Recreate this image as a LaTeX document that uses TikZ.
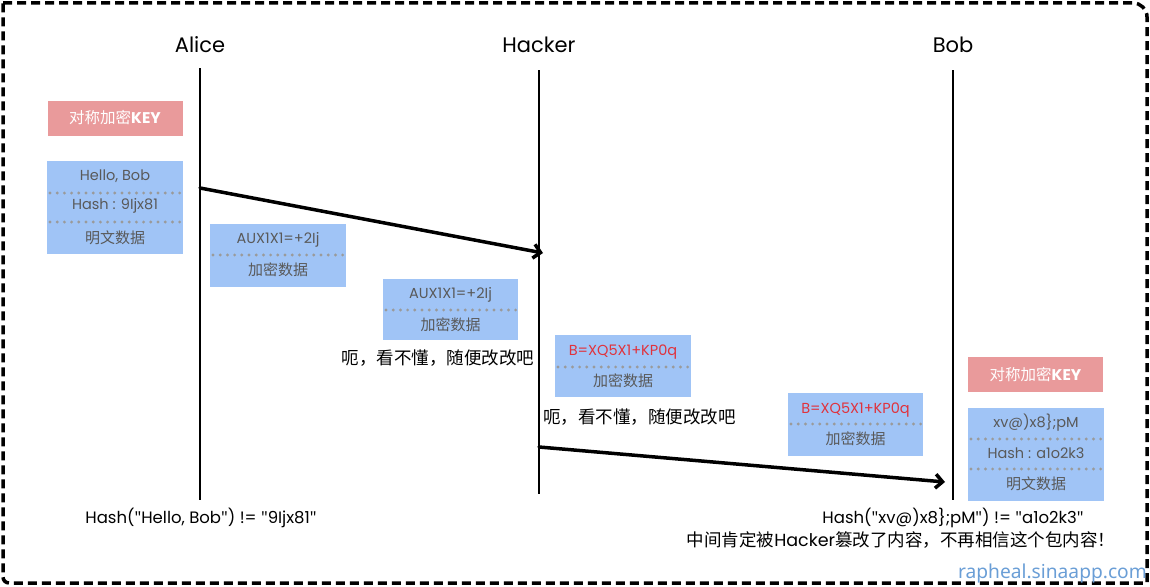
\documentclass[tikz,border=0pt]{standalone}
\usepackage{fontspec}
\setmainfont{Poppins}
\newfontfamily\cjk{Noto Sans CJK SC}
\newfontfamily\webfont{Noto Sans}
\usetikzlibrary{arrows.meta}

\definecolor{keyred}{HTML}{E99A9B}
\definecolor{datablue}{HTML}{A0C4F6}
\definecolor{datatext}{HTML}{595959}
\definecolor{fakered}{HTML}{E0323C}
\definecolor{sepgray}{HTML}{9A9A9A}
\definecolor{webblue}{HTML}{6A9ED6}

\tikzset{
	actorname/.style={font=\fontsize{21}{24}\selectfont, inner sep=0},
	lifeline/.style={line width=1.6pt},
	msgarrow/.style={line width=3.5pt, line cap=round,
		-{Straight Barb[length=7pt,width=14pt,line width=3.5pt]}},
	keybox/.style={fill=keyred, minimum width=135pt, minimum height=35pt, inner sep=0,
		text=white, font=\cjk\fontsize{15.5}{18}\selectfont},
	databox/.style={fill=datablue, minimum width=136pt, inner sep=0},
	boxline/.style={text=datatext, font=\fontsize{14.5}{16}\selectfont, inner sep=0},
	cjkline/.style={text=datatext, font=\cjk\fontsize{15}{17}\selectfont, inner sep=0},
	dotsep/.style={sepgray, line width=3.2pt, line cap=round, dash pattern=on 0pt off 7.2pt},
	hackernote/.style={font=\cjk\fontsize{17.5}{20}\selectfont, inner sep=0},
	hashnote/.style={font=\fontsize{16.5}{19}\selectfont, inner sep=0},
}

\begin{document}
\begin{tikzpicture}[x=1pt, y=-1pt]
	\useasboundingbox (0,0) rectangle (1150,586);

	%lifeline positions
	\def\aliceX{200}
	\def\hackerX{539}
	\def\bobX{953}
	%straight quote
	\def\qt{{\webfont"}}

	% outer frame
	\draw[line width=3.5pt, dash pattern=on 9pt off 5pt]
		(3,3) [rounded corners=14pt] -- (1147,3) [sharp corners] -- (1147,583)
		[rounded corners=6pt] -- (3,583) [sharp corners] -- cycle;

	% actors
	\node[actorname] (alice)  at (\aliceX,45)  {Alice};
	\node[actorname] (hacker) at (\hackerX,45) {Hacker};
	\node[actorname] (bob)    at (\bobX,45)    {Bob};

	\coordinate (aliceTop)  at (\aliceX,68);
	\coordinate (aliceBot)  at (\aliceX,500);
	\coordinate (hackerTop) at (\hackerX,70);
	\coordinate (hackerBot) at (\hackerX,494);
	\coordinate (bobTop)    at (\bobX,70);
	\coordinate (bobBot)    at (\bobX,500);

	\draw[lifeline] (aliceTop) -- (aliceBot);
	\draw[lifeline] (hackerTop) -- (hackerBot);
	\draw[lifeline] (bobTop) -- (bobBot);

	% alice side
	\node[keybox] (aliceKey) at (115,118) {对称加密{\rmfamily\bfseries KEY}};
	\node[databox, minimum height=93pt] (aliceData) at (115,207.5) {};
	\node[boxline] (aliceMsg)  at (115,176) {Hello, Bob};
	\node[boxline] (aliceHash) at (115,206) {Hash : 9Ijx81};
	\node[cjkline] (alicePlain) at (115,238) {明文数据};
	\draw[dotsep] (50,193) -- (181,193);
	\draw[dotsep] (50,222) -- (181,222);

	% first packet
	\node[databox, minimum height=63pt] (cipherA) at (278,255.5) {};
	\node[boxline] (cipherAText) at (278,240) {AUX1X1=+2Ij};
	\node[cjkline] (cipherALabel) at (278,270) {加密数据};
	\draw[dotsep] (213,255) -- (344,255);

	\coordinate (sendStart) at (\aliceX,188);
	\coordinate (sendEnd)   at (543,253);
	\draw[msgarrow] (sendStart) -- (sendEnd);

	% hacker receives
	\node[databox, minimum width=135pt, minimum height=61pt] (cipherB) at (450.5,309.5) {};
	\node[boxline] (cipherBText) at (450.5,295) {AUX1X1=+2Ij};
	\node[cjkline] (cipherBLabel) at (450.5,325) {加密数据};
	\draw[dotsep] (386,310) -- (516,310);
	\node[hackernote] (guessA) at (438,358) {呃，看不懂，随便改改吧};

	% hacker tampers
	\node[databox, minimum height=62pt] (fakeA) at (623,366) {};
	\node[boxline, text=fakered] (fakeAText) at (623,352) {B=XQ5X1+KP0q};
	\node[cjkline] (fakeALabel) at (623,381) {加密数据};
	\draw[dotsep] (558,367) -- (689,367);
	\node[hackernote, anchor=west] (guessB) at (543,417) {呃，看不懂，随便改改吧};

	% second packet
	\node[databox, minimum width=135pt, minimum height=63pt] (fakeB) at (855.5,424.5) {};
	\node[boxline, text=fakered] (fakeBText) at (855.5,410) {B=XQ5X1+KP0q};
	\node[cjkline] (fakeBLabel) at (855.5,439) {加密数据};
	\draw[dotsep] (791,424) -- (921,424);

	\coordinate (forwardStart) at (\hackerX,447);
	\coordinate (forwardEnd)   at (945,482);
	\draw[msgarrow] (forwardStart) -- (forwardEnd);

	% bob side
	\node[keybox] (bobKey) at (1035.5,374.5) {对称加密{\rmfamily\bfseries KEY}};
	\node[databox, minimum height=93pt] (bobData) at (1036,454.5) {};
	\node[boxline] (bobMsg)  at (1036,423) {xv@)x8\};pM};
	\node[boxline] (bobHash) at (1036,453) {Hash : a1o2k3};
	\node[cjkline] (bobPlain) at (1036,484) {明文数据};
	\draw[dotsep] (971,439) -- (1102,439);
	\draw[dotsep] (971,469) -- (1102,469);

	% hash checks
	\node[hashnote] (aliceCheck) at (201,518) {Hash(\qt Hello, Bob\qt) != \qt 9Ijx81\qt};
	\node[hashnote] (bobCheck)   at (953,518) {Hash(\qt xv@)x8\};pM\qt) != \qt a1o2k3\qt};
	\node[font=\fontsize{17.5}{20}\selectfont, inner sep=0] (verdict) at (901,540)
		{{\cjk 中间肯定被}Hacker{\cjk 篡改了内容，不再相信这个包内容！}};

	% watermark
	\node[font=\webfont\fontsize{19.2}{21}\selectfont, text=webblue, inner sep=0, anchor=east]
		(site) at (1147,573) {rapheal.sinaapp.com};

\end{tikzpicture}
\end{document}
